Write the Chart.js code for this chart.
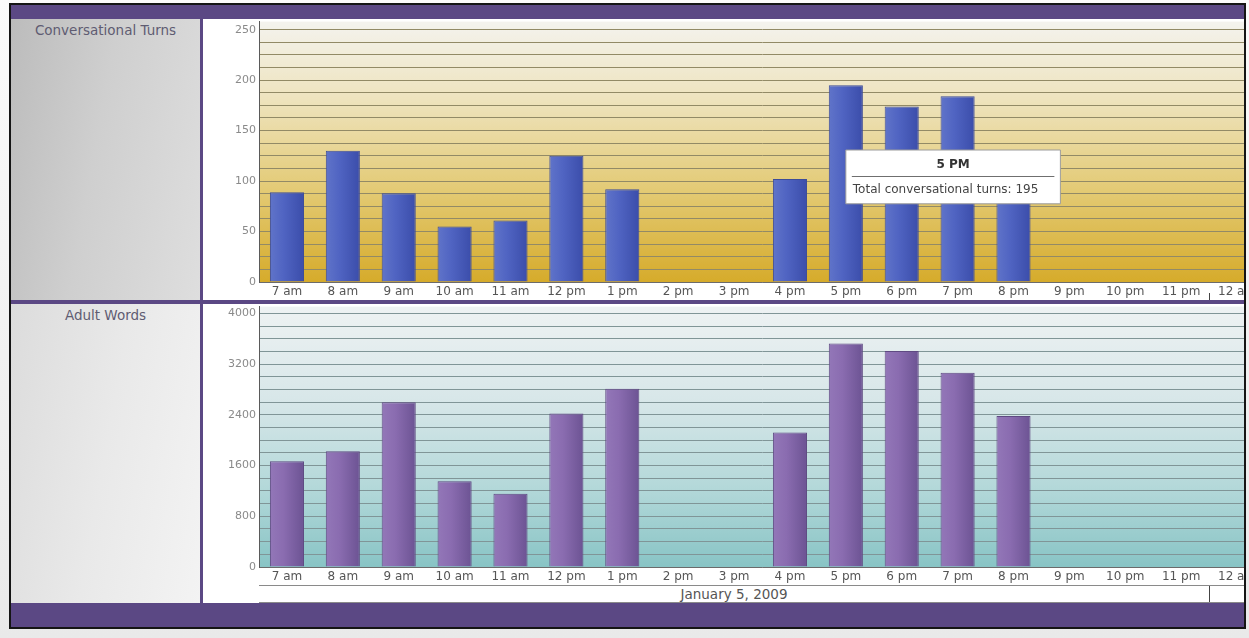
<!DOCTYPE html>
<html>
<head>
<meta charset="utf-8">
<script src="https://cdn.jsdelivr.net/npm/chart.js@4.4.1/dist/chart.umd.min.js"></script>
<style>
  body { margin: 0; width: 1249px; height: 638px; overflow: hidden; background: linear-gradient(#fbfbfb, #e9e9e9); font-family: "DejaVu Sans", sans-serif; }
  #frame { position: absolute; left: 9px; top: 3px; width: 1233px; height: 622px; border: 2px solid #151515; background: #5b4884; overflow: hidden; }
  .side { position: absolute; left: 0; width: 189px; text-align: center; font-size: 13.5px; color: #5f5c72; padding-top: 3px; box-sizing: border-box; }
  #sideTop { top: 14px; height: 281px; background: linear-gradient(100deg, #bcbcbc 0%, #cfcfcf 45%, #dedede 100%); }
  #sideBottom { top: 299px; height: 299px; background: linear-gradient(100deg, #dcdcdc 0%, #e9e9e9 50%, #f3f3f3 100%); }
  .wrap { position: absolute; left: 192px; width: 1041px; background: #fff; overflow: hidden; }
  #wrapTop { top: 14px; height: 281px; }
  #wrapBottom { top: 299px; height: 299px; }
  canvas { position: absolute; left: 0; top: -7px; }
  #dateRow { position: absolute; left: 56px; top: 281px; width: 990px; height: 16px; border-top: 1px solid #8a8a8a; border-bottom: 1px solid #8a8a8a; font-size: 13.5px; color: #555; }
  #dateRow span { position: absolute; left: 0; width: 950px; text-align: center; top: 0; }
  #dateRow i { position: absolute; left: 950px; top: 0; width: 1px; height: 16px; background: #444; }
</style>
</head>
<body>
<div id="frame">
  <div class="side" id="sideTop">Conversational Turns</div>
  <div class="side" id="sideBottom">Adult Words</div>
  <div class="wrap" id="wrapTop"><canvas id="turnsChart" width="1062" height="288"></canvas></div>
  <div class="wrap" id="wrapBottom">
    <canvas id="wordsChart" width="1062" height="288"></canvas>
    <div id="dateRow"><span>January 5, 2009</span><i></i></div>
  </div>
</div>
<script>
const hours = ["7 am", "8 am", "9 am", "10 am", "11 am", "12 pm", "1 pm", "2 pm", "3 pm",
  "4 pm", "5 pm", "6 pm", "7 pm", "8 pm", "9 pm", "10 pm", "11 pm", "12 am"];
const turns = [89, 130, 88, 55, 61, 125, 92, null, null, 102, 195, 174, 184, 115, null, null, null, null];
const words = [1668, 1825, 2600, 1354, 1156, 2421, 2813, null, null, 2123, 3526, 3410, 3065, 2385, null, null, null, null];
const turnTicks = [0, 50, 100, 150, 200, 250];
const wordTicks = [0, 800, 1600, 2400, 3200, 4000];
const highlighted = "5 pm";

const FONT = "DejaVu Sans";

// plot area gradient fill
const plotBg = {
  id: "plotBg",
  beforeDraw(chart, args, opts) {
    const { ctx, chartArea: a } = chart;
    if (!a || !isFinite(a.top) || !isFinite(a.bottom)) return;
    const g = ctx.createLinearGradient(0, a.top, 0, a.bottom);
    opts.stops.forEach(([p, c]) => g.addColorStop(p, c));
    ctx.save();
    ctx.fillStyle = g;
    ctx.fillRect(a.left, a.top, a.right - a.left, a.bottom - a.top);
    ctx.restore();
  }
};

// little tick mark where the next day starts
const dayMark = {
  id: "dayMark",
  afterDraw(chart, args, opts) {
    if (!opts.show) return;
    const x = chart.scales.x;
    const px = Math.round((x.getPixelForValue(16) + x.getPixelForValue(17)) / 2) + 0.5;
    const ctx = chart.ctx;
    ctx.save();
    ctx.strokeStyle = "#444";
    ctx.beginPath();
    ctx.moveTo(px, chart.chartArea.bottom + 11);
    ctx.lineTo(px, chart.chartArea.bottom + 18);
    ctx.stroke();
    ctx.restore();
  }
};

// line under the tooltip title
const tipRule = {
  id: "tipRule",
  afterDraw(chart) {
    const t = chart.tooltip;
    if (!t || !t.opacity || !t.dataPoints || !t.dataPoints.length) return;
    const ctx = chart.ctx;
    const y = Math.round(t.y + 26) + 0.5;
    ctx.save();
    ctx.strokeStyle = "#6f6f6f";
    ctx.lineWidth = 1;
    ctx.beginPath();
    ctx.moveTo(t.x + 6, y);
    ctx.lineTo(t.x + t.width - 6, y);
    ctx.stroke();
    ctx.restore();
  }
};

Chart.Tooltip.positioners.fixedTop = function (items) {
  if (!items.length) return false;
  return { x: items[0].element.x, y: 138 };
};

function barFill(colors) {
  return ctx => {
    const x = ctx.chart.scales.x;
    if (!x || ctx.type !== "data") return colors[1];
    const c = x.getPixelForValue(ctx.dataIndex);
    if (!isFinite(c)) return colors[1];
    const g = ctx.chart.ctx.createLinearGradient(c - 17, 0, c + 17, 0);
    g.addColorStop(0, colors[0]);
    g.addColorStop(0.4, colors[1]);
    g.addColorStop(1, colors[2]);
    return g;
  };
}

function makeChart(id, values, opts) {
  return new Chart(document.getElementById(id), {
    type: "bar",
    data: {
      labels: hours,
      datasets: [{
        data: values,
        backgroundColor: barFill(opts.bar),
        borderColor: opts.barEdge,
        borderWidth: 1,
        barPercentage: 0.61,
        categoryPercentage: 1
      }]
    },
    options: {
      responsive: false,
      animation: false,
      events: [],
      devicePixelRatio: 1,
      layout: { padding: 0 },
      plugins: {
        legend: { display: false },
        plotBg: { stops: opts.bg },
        dayMark: { show: opts.dayMark },
        tooltip: opts.tooltip || { enabled: false }
      },
      scales: {
        x: {
          grid: { display: false, drawTicks: false },
          border: { display: true, color: "#6b6b6b" },
          ticks: { color: "#555", font: { family: FONT, size: 12 }, padding: 3, maxRotation: 0, autoSkip: false },
          afterFit: s => { s.height = 18; }
        },
        y: {
          min: 0,
          max: opts.max,
          afterBuildTicks: s => {
            const t = [];
            for (let v = 0; v <= opts.labels[opts.labels.length - 1]; v += opts.minor) t.push({ value: v });
            s.ticks = t;
          },
          grid: { color: opts.gridColor, lineWidth: 1, drawTicks: false },
          border: { display: true, color: "#5a5a5a" },
          ticks: {
            autoSkip: false,
            color: "#8a8a8a",
            font: { family: FONT, size: 11 },
            padding: 3,
            callback: v => opts.labels.includes(v) ? v : ""
          },
          afterFit: s => { s.width = 56; }
        }
      }
    },
    plugins: [plotBg, dayMark, tipRule]
  });
}

const turnsChart = makeChart("turnsChart", turns, {
  max: 258,
  minor: 12.5,
  labels: turnTicks,
  gridColor: "#928a66",
  bar: ["#6074c9", "#5064c2", "#3b4daa"],
  barEdge: "#3d4c98",
  bg: [[0, "#f4f3ee"], [0.3, "#eee3bd"], [0.65, "#e3ca74"], [1, "#d6ab2b"]],
  dayMark: true,
  tooltip: {
    enabled: true,
    position: "fixedTop",
    xAlign: "left",
    yAlign: "top",
    caretSize: 0,
    caretPadding: 0,
    cornerRadius: 0,
    backgroundColor: "#ffffff",
    borderColor: "#9c9c9c",
    borderWidth: 1,
    titleColor: "#333",
    bodyColor: "#444",
    titleAlign: "center",
    titleFont: { family: FONT, size: 12, weight: "bold" },
    bodyFont: { family: FONT, size: 12 },
    titleMarginBottom: 10,
    padding: { top: 8, bottom: 7, left: 7, right: 22 },
    displayColors: false,
    callbacks: {
      title: items => items[0].label.toUpperCase(),
      label: item => "Total conversational turns: " + item.parsed.y
    }
  }
});

makeChart("wordsChart", words, {
  max: 4110,
  minor: 200,
  labels: wordTicks,
  gridColor: "#809597",
  bar: ["#9377b8", "#8a6cb0", "#6c5393"],
  barEdge: "#5f4a82",
  bg: [[0, "#eef2f3"], [0.35, "#d8e7e9"], [0.7, "#b3d8d9"], [1, "#88c4c5"]],
  dayMark: false
});

turnsChart.tooltip.setActiveElements([{ datasetIndex: 0, index: hours.indexOf(highlighted) }], { x: 0, y: 0 });
turnsChart.update();
</script>
</body>
</html>
